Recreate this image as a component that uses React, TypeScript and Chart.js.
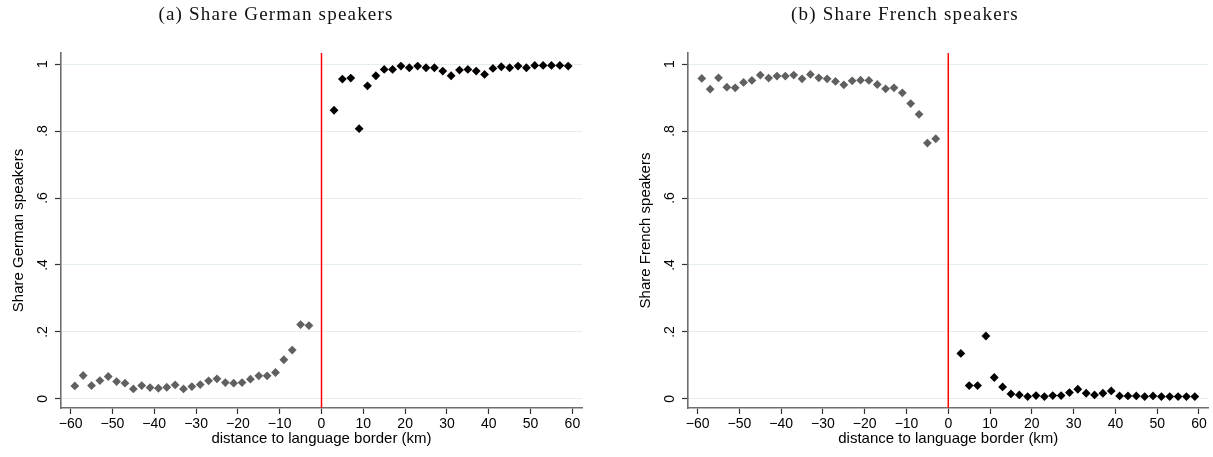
import React, { useEffect, useRef } from "react";
import { Chart, registerables } from "chart.js";

Chart.register(...registerables);

// ---- data ----
const xWest = [-59, -57, -55, -53, -51, -49, -47, -45, -43, -41, -39, -37, -35, -33, -31, -29, -27, -25, -23, -21, -19, -17, -15, -13, -11, -9, -7, -5, -3];
const xEast = [3, 5, 7, 9, 11, 13, 15, 17, 19, 21, 23, 25, 27, 29, 31, 33, 35, 37, 39, 41, 43, 45, 47, 49, 51, 53, 55, 57, 59];

const germanWest = [0.039, 0.070, 0.040, 0.055, 0.067, 0.052, 0.047, 0.030, 0.040, 0.034, 0.032, 0.035, 0.042, 0.030, 0.037, 0.043, 0.054, 0.060, 0.049, 0.047, 0.049, 0.059, 0.069, 0.069, 0.079, 0.117, 0.146, 0.222, 0.219];
const germanEast = [0.862, 0.955, 0.958, 0.807, 0.935, 0.965, 0.984, 0.984, 0.994, 0.989, 0.994, 0.989, 0.989, 0.979, 0.965, 0.982, 0.984, 0.979, 0.969, 0.987, 0.992, 0.989, 0.994, 0.989, 0.996, 0.996, 0.996, 0.996, 0.994];

const frenchWest = [0.957, 0.925, 0.959, 0.931, 0.929, 0.945, 0.951, 0.967, 0.958, 0.964, 0.964, 0.967, 0.956, 0.969, 0.959, 0.956, 0.948, 0.938, 0.950, 0.952, 0.951, 0.939, 0.926, 0.929, 0.914, 0.882, 0.850, 0.764, 0.777];
const frenchEast = [0.136, 0.040, 0.040, 0.188, 0.064, 0.036, 0.015, 0.012, 0.007, 0.010, 0.007, 0.010, 0.010, 0.019, 0.029, 0.017, 0.012, 0.017, 0.024, 0.009, 0.009, 0.009, 0.007, 0.009, 0.007, 0.007, 0.007, 0.007, 0.007];

const xTickValues = [-60, -50, -40, -30, -20, -10, 0, 10, 20, 30, 40, 50, 60];
const yTickValues = [0, 0.2, 0.4, 0.6, 0.8, 1];
const yTickLabels = ["0", ".2", ".4", ".6", ".8", "1"];
const borderPosition = 0;

const xTitle = "distance to language border (km)";

const H = 457;
const AREA_TOP = 53;
const AREA_BOTTOM = 408;

type PanelProps = {
  title: string;
  yTitle: string;
  west: number[];
  east: number[];
  width: number;
  areaLeft: number;
  areaRight: number;
  titleX: number;
};

function Panel(p: PanelProps) {
  const ref = useRef<HTMLCanvasElement | null>(null);

  useEffect(() => {
    if (!ref.current) return;
    const decor = {
      id: "decor",
      beforeDatasetsDraw(chart: any) {
        const ctx = chart.ctx;
        const x = chart.scales.x.getPixelForValue(borderPosition);
        ctx.save();
        ctx.strokeStyle = "#ff0000";
        ctx.lineWidth = 1.5;
        ctx.beginPath();
        ctx.moveTo(x, chart.chartArea.top);
        ctx.lineTo(x, chart.chartArea.bottom);
        ctx.stroke();
        ctx.restore();
      },
      afterDraw(chart: any) {
        const ctx = chart.ctx;
        const area = chart.chartArea;
        ctx.save();
        // panel title
        ctx.fillStyle = "#111";
        ctx.font = '19px "Liberation Serif"';
        (ctx as any).letterSpacing = "1.2px";
        ctx.textAlign = "center";
        ctx.textBaseline = "alphabetic";
        ctx.fillText(p.title, p.titleX, 20);
        (ctx as any).letterSpacing = "0px";

        // y tick labels (rotated)
        ctx.fillStyle = "#000";
        ctx.font = '14px "Liberation Sans"';
        yTickValues.forEach((v, i) => {
          const y = chart.scales.y.getPixelForValue(v);
          ctx.save();
          ctx.translate(area.left - 14.5, y);
          ctx.rotate(-Math.PI / 2);
          ctx.textAlign = "center";
          ctx.textBaseline = "alphabetic";
          ctx.fillText(yTickLabels[i], 0, 0);
          ctx.restore();
        });

        // y title
        ctx.save();
        ctx.font = '15px "Liberation Sans"';
        ctx.translate(area.left - 38, (area.top + area.bottom) / 2);
        ctx.rotate(-Math.PI / 2);
        ctx.textAlign = "center";
        ctx.textBaseline = "alphabetic";
        ctx.fillText(p.yTitle, 0, 0);
        ctx.restore();

        // x title
        ctx.font = '15px "Liberation Sans"';
        ctx.textAlign = "center";
        ctx.textBaseline = "alphabetic";
        ctx.fillText(xTitle, (area.left + area.right) / 2, 443);
        ctx.restore();
      },
    };

    const chart = new Chart(ref.current, {
      type: "scatter",
      data: {
        datasets: [
          {
            data: xWest.map((x, i) => ({ x, y: p.west[i] })),
            backgroundColor: "#606060",
            borderColor: "#606060",
            borderWidth: 0,
            pointStyle: "rectRot",
            pointRadius: 4.4,
          },
          {
            data: xEast.map((x, i) => ({ x, y: p.east[i] })),
            backgroundColor: "#000000",
            borderColor: "#000000",
            borderWidth: 0,
            pointStyle: "rectRot",
            pointRadius: 4.4,
          },
        ],
      },
      options: {
        responsive: false,
        animation: false,
        devicePixelRatio: 1,
        layout: { padding: { left: 0, right: p.width - p.areaRight, top: AREA_TOP, bottom: 0 } },
        plugins: {
          legend: { display: false },
          tooltip: { enabled: false },
          title: { display: false },
        },
        scales: {
          x: {
            type: "linear",
            min: -62.3,
            max: 62.3,
            afterBuildTicks: (s: any) => {
              s.ticks = xTickValues.map((v) => ({ value: v }));
            },
            afterFit: (s: any) => {
              s.height = H - AREA_BOTTOM;
            },
            grid: {
              drawOnChartArea: false,
              drawTicks: true,
              tickLength: 6,
              tickColor: "#333",
              tickWidth: 1.2,
            },
            border: { color: "#6e6e6e", width: 1.6 },
            ticks: {
              padding: 2,
              color: "#000",
              font: { family: "Liberation Sans", size: 14 },
              maxRotation: 0,
              autoSkip: false,
              callback: (v: any) => (Number(v) < 0 ? "\u2212" + Math.abs(Number(v)) : String(v)),
            },
          },
          y: {
            type: "linear",
            min: -0.027,
            max: 1.033,
            afterBuildTicks: (s: any) => {
              s.ticks = yTickValues.map((v) => ({ value: v }));
            },
            afterFit: (s: any) => {
              s.width = p.areaLeft;
            },
            grid: {
              color: "#e4eef0",
              lineWidth: 1,
              drawTicks: true,
              tickLength: 6,
              tickColor: "#333",
              tickWidth: 1.2,
            },
            border: { color: "#6e6e6e", width: 1.6 },
            ticks: { display: false },
          },
        },
      },
      plugins: [decor],
    } as any);
    return () => chart.destroy();
  }, []);

  return <canvas ref={ref} width={p.width} height={H} style={{ display: "block" }} />;
}

export default function App() {
  return (
    <div
      style={{
        position: "absolute",
        left: 0,
        top: 0,
        width: 1213,
        height: H,
        display: "flex",
        background: "#ffffff",
      }}
    >
      <Panel
        title="(a) Share German speakers"
        yTitle="Share German speakers"
        west={germanWest}
        east={germanEast}
        width={606}
        areaLeft={61}
        areaRight={582}
        titleX={276}
      />
      <Panel
        title="(b) Share French speakers"
        yTitle="Share French speakers"
        west={frenchWest}
        east={frenchEast}
        width={607}
        areaLeft={82}
        areaRight={603}
        titleX={299}
      />
    </div>
  );
}
